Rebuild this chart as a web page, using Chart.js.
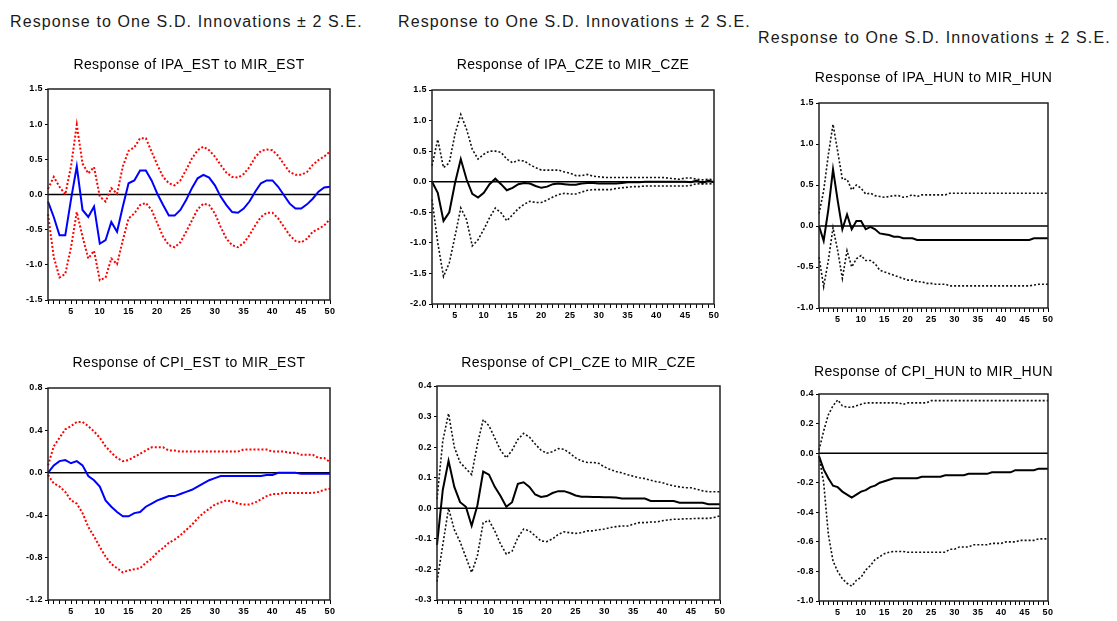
<!DOCTYPE html>
<html>
<head>
<meta charset="utf-8">
<script src="https://cdn.jsdelivr.net/npm/chart.js@4.4.1/dist/chart.umd.min.js"></script>
<style>
  body { margin: 0; background: #fff; width: 1117px; height: 621px; position: relative; overflow: hidden;
         font-family: 'Liberation Sans', Arial, sans-serif; }
  .head { position: absolute; font-size: 16px; letter-spacing: 1.1px; color: #1a1a1a; line-height: 18px; white-space: nowrap; }
  canvas { position: absolute; }
</style>
</head>
<body>
<div class="head" style="left:10px;top:13px">Response to One S.D. Innovations ± 2 S.E.</div>
<div class="head" style="left:398px;top:13px">Response to One S.D. Innovations ± 2 S.E.</div>
<div class="head" style="left:758px;top:29px">Response to One S.D. Innovations ± 2 S.E.</div>

<canvas id="ipaEst"></canvas>
<canvas id="ipaCze"></canvas>
<canvas id="ipaHun"></canvas>
<canvas id="cpiEst"></canvas>
<canvas id="cpiCze"></canvas>
<canvas id="cpiHun"></canvas>

<script>
const periods = [1,2,3,4,5,6,7,8,9,10,11,12,13,14,15,16,17,18,19,20,21,22,23,24,25,
                 26,27,28,29,30,31,32,33,34,35,36,37,38,39,40,41,42,43,44,45,46,47,48,49,50];

// IPA_EST to MIR_EST
const ipaEstResp = [-0.10,-0.32,-0.58,-0.58,-0.07,0.40,-0.22,-0.32,-0.17,-0.70,-0.65,-0.39,-0.53,-0.17,0.16,0.20,0.34,0.34,0.20,0.01,
                    -0.15,-0.30,-0.30,-0.22,-0.08,0.09,0.23,0.28,0.24,0.13,-0.03,-0.15,-0.25,-0.26,-0.20,-0.10,0.04,0.16,0.20,0.20,
                    0.11,-0.01,-0.13,-0.20,-0.20,-0.14,-0.06,0.04,0.10,0.11];
const ipaEstHi = [0.08,0.25,0.11,0.00,0.40,0.99,0.44,0.30,0.39,-0.03,-0.10,0.09,0.01,0.40,0.62,0.67,0.80,0.80,0.61,0.42,
                  0.25,0.16,0.13,0.20,0.35,0.51,0.63,0.68,0.63,0.54,0.42,0.31,0.25,0.24,0.29,0.39,0.53,0.62,0.64,0.63,
                  0.55,0.43,0.32,0.28,0.28,0.32,0.42,0.49,0.54,0.61];
const ipaEstLo = [-0.28,-0.89,-1.18,-1.13,-0.75,-0.25,-0.60,-0.91,-0.80,-1.22,-1.18,-0.91,-0.99,-0.65,-0.34,-0.27,-0.15,-0.12,-0.22,-0.41,
                  -0.60,-0.72,-0.75,-0.68,-0.53,-0.37,-0.21,-0.13,-0.15,-0.27,-0.46,-0.63,-0.72,-0.75,-0.69,-0.58,-0.44,-0.32,-0.26,-0.26,
                  -0.34,-0.46,-0.58,-0.66,-0.68,-0.63,-0.53,-0.49,-0.44,-0.35];

// IPA_CZE to MIR_CZE
const ipaCzeResp = [0.00,-0.18,-0.64,-0.50,-0.02,0.37,0.04,-0.20,-0.26,-0.18,-0.04,0.05,-0.04,-0.14,-0.10,-0.04,-0.02,-0.03,-0.07,-0.10,
                    -0.08,-0.04,-0.03,-0.04,-0.05,-0.05,-0.03,-0.02,-0.02,-0.03,-0.03,-0.03,-0.03,-0.02,-0.01,-0.01,-0.01,0.00,0.00,0.00,
                    0.00,0.00,0.00,0.00,0.00,-0.01,0.02,-0.02,0.02,-0.01];
const ipaCzeHi = [0.26,0.69,0.23,0.31,0.78,1.10,0.86,0.53,0.37,0.45,0.50,0.50,0.48,0.37,0.31,0.35,0.34,0.28,0.23,0.19,
                  0.19,0.19,0.19,0.16,0.14,0.10,0.10,0.12,0.09,0.08,0.07,0.07,0.07,0.07,0.07,0.07,0.07,0.07,0.07,0.07,
                  0.07,0.06,0.05,0.04,0.06,0.06,0.04,0.03,0.04,0.03];
const ipaCzeLo = [-0.29,-1.00,-1.55,-1.33,-0.89,-0.43,-0.62,-1.05,-0.95,-0.78,-0.59,-0.43,-0.51,-0.64,-0.54,-0.44,-0.37,-0.32,-0.34,-0.34,
                  -0.30,-0.25,-0.21,-0.19,-0.20,-0.20,-0.17,-0.14,-0.13,-0.13,-0.13,-0.13,-0.11,-0.10,-0.09,-0.08,-0.08,-0.07,-0.07,-0.07,
                  -0.07,-0.07,-0.07,-0.07,-0.07,-0.06,-0.03,-0.04,-0.03,-0.04];

// IPA_HUN to MIR_HUN
const ipaHunResp = [0.00,-0.18,0.20,0.69,0.31,-0.04,0.14,-0.04,0.06,0.06,-0.04,-0.01,-0.04,-0.09,-0.10,-0.11,-0.13,-0.13,-0.15,-0.15,
                    -0.15,-0.17,-0.17,-0.17,-0.17,-0.17,-0.17,-0.17,-0.17,-0.17,-0.17,-0.17,-0.17,-0.17,-0.17,-0.17,-0.17,-0.17,-0.17,-0.17,
                    -0.17,-0.17,-0.17,-0.17,-0.17,-0.17,-0.15,-0.15,-0.15,-0.15];
const ipaHunHi = [0.15,0.43,0.87,1.24,0.91,0.57,0.57,0.44,0.50,0.46,0.39,0.40,0.37,0.36,0.35,0.36,0.37,0.37,0.35,0.36,
                  0.38,0.36,0.38,0.38,0.38,0.38,0.38,0.38,0.40,0.40,0.40,0.40,0.40,0.40,0.40,0.40,0.40,0.40,0.40,0.40,
                  0.40,0.40,0.40,0.40,0.40,0.40,0.40,0.40,0.40,0.40];
const ipaHunLo = [-0.38,-0.74,-0.42,-0.02,-0.30,-0.64,-0.30,-0.50,-0.40,-0.36,-0.42,-0.42,-0.46,-0.54,-0.56,-0.58,-0.60,-0.62,-0.64,-0.66,
                  -0.66,-0.68,-0.68,-0.70,-0.70,-0.71,-0.71,-0.71,-0.73,-0.73,-0.73,-0.73,-0.73,-0.73,-0.73,-0.73,-0.73,-0.73,-0.73,-0.73,
                  -0.73,-0.73,-0.73,-0.73,-0.73,-0.73,-0.72,-0.71,-0.71,-0.71];

// CPI_EST to MIR_EST
const cpiEstResp = [0.00,0.07,0.11,0.12,0.09,0.11,0.07,-0.03,-0.07,-0.13,-0.26,-0.32,-0.37,-0.41,-0.41,-0.38,-0.37,-0.32,-0.29,-0.26,
                    -0.24,-0.22,-0.22,-0.20,-0.18,-0.16,-0.13,-0.10,-0.07,-0.05,-0.03,-0.03,-0.03,-0.03,-0.03,-0.03,-0.03,-0.03,-0.02,-0.02,
                    0.00,0.00,0.00,0.00,-0.01,-0.01,-0.01,-0.01,-0.01,-0.01];
const cpiEstHi = [0.07,0.25,0.33,0.41,0.44,0.48,0.48,0.44,0.39,0.33,0.25,0.19,0.14,0.11,0.12,0.15,0.18,0.21,0.24,0.24,
                  0.24,0.21,0.21,0.20,0.20,0.20,0.20,0.20,0.20,0.20,0.20,0.20,0.20,0.20,0.22,0.22,0.22,0.22,0.22,0.20,
                  0.20,0.20,0.19,0.19,0.17,0.17,0.17,0.14,0.14,0.10];
const cpiEstLo = [-0.02,-0.10,-0.13,-0.18,-0.26,-0.29,-0.38,-0.51,-0.60,-0.70,-0.79,-0.86,-0.90,-0.94,-0.92,-0.91,-0.90,-0.85,-0.81,-0.75,
                  -0.71,-0.66,-0.63,-0.59,-0.54,-0.49,-0.43,-0.38,-0.34,-0.30,-0.28,-0.26,-0.27,-0.29,-0.30,-0.30,-0.28,-0.25,-0.22,-0.20,
                  -0.20,-0.19,-0.19,-0.19,-0.19,-0.19,-0.19,-0.18,-0.16,-0.15];

// CPI_CZE to MIR_CZE
const cpiCzeResp = [-0.12,0.06,0.155,0.07,0.02,0.005,-0.057,0.01,0.12,0.11,0.07,0.04,0.005,0.02,0.08,0.085,0.07,0.045,0.037,0.04,
                    0.05,0.056,0.056,0.05,0.042,0.038,0.038,0.037,0.037,0.036,0.036,0.035,0.032,0.032,0.032,0.032,0.032,0.024,0.024,0.024,
                    0.024,0.024,0.018,0.018,0.018,0.018,0.018,0.013,0.013,0.013];
const cpiCzeHi = [0.03,0.22,0.31,0.20,0.15,0.13,0.11,0.21,0.29,0.27,0.23,0.19,0.165,0.19,0.225,0.245,0.233,0.21,0.19,0.18,
                  0.185,0.195,0.193,0.18,0.165,0.155,0.15,0.15,0.147,0.135,0.127,0.12,0.116,0.11,0.105,0.10,0.097,0.092,0.087,0.084,
                  0.078,0.073,0.07,0.067,0.067,0.062,0.057,0.054,0.054,0.054];
const cpiCzeLo = [-0.24,-0.12,0.00,-0.07,-0.11,-0.16,-0.21,-0.155,-0.047,-0.04,-0.074,-0.117,-0.15,-0.14,-0.096,-0.068,-0.074,-0.09,-0.107,-0.109,
                  -0.10,-0.085,-0.077,-0.08,-0.082,-0.08,-0.074,-0.074,-0.07,-0.068,-0.063,-0.06,-0.058,-0.058,-0.052,-0.047,-0.047,-0.045,-0.045,-0.041,
                  -0.038,-0.036,-0.036,-0.034,-0.034,-0.033,-0.033,-0.033,-0.03,-0.025];

// CPI_HUN to MIR_HUN
const cpiHunResp = [-0.02,-0.11,-0.17,-0.22,-0.23,-0.26,-0.28,-0.30,-0.28,-0.26,-0.25,-0.23,-0.22,-0.20,-0.19,-0.18,-0.17,-0.17,-0.17,-0.17,
                    -0.17,-0.17,-0.16,-0.16,-0.16,-0.16,-0.16,-0.15,-0.15,-0.15,-0.15,-0.15,-0.14,-0.14,-0.14,-0.14,-0.14,-0.13,-0.13,-0.13,
                    -0.13,-0.13,-0.115,-0.115,-0.115,-0.115,-0.115,-0.105,-0.105,-0.105];
const cpiHunHi = [0.02,0.15,0.26,0.32,0.36,0.32,0.31,0.31,0.32,0.33,0.34,0.34,0.34,0.34,0.34,0.34,0.34,0.34,0.33,0.34,
                  0.34,0.34,0.34,0.34,0.355,0.355,0.355,0.355,0.355,0.355,0.355,0.355,0.355,0.355,0.355,0.355,0.355,0.355,0.355,0.355,
                  0.355,0.355,0.355,0.355,0.355,0.355,0.355,0.355,0.355,0.355];
const cpiHunLo = [-0.02,-0.20,-0.55,-0.73,-0.80,-0.85,-0.88,-0.90,-0.86,-0.84,-0.79,-0.76,-0.72,-0.70,-0.68,-0.67,-0.665,-0.665,-0.665,-0.67,
                  -0.67,-0.67,-0.67,-0.67,-0.67,-0.67,-0.67,-0.67,-0.65,-0.65,-0.635,-0.635,-0.635,-0.62,-0.62,-0.62,-0.62,-0.61,-0.61,-0.61,
                  -0.60,-0.60,-0.60,-0.59,-0.59,-0.59,-0.59,-0.58,-0.58,-0.58];

Chart.defaults.font.family = "'Liberation Sans', Arial, sans-serif";
Chart.defaults.color = '#000';

// width of the y axis band (an empty twin on the right keeps the title centred), x axis band, title line
const SIDE = 40, AXIS_H = 22, TITLE_LH = 17;

// box = plot area [left, top, right, bottom] on the page
const panels = [
  { id: 'ipaEst', title: 'Response of IPA_EST to MIR_EST', resp: ipaEstResp, hi: ipaEstHi, lo: ipaEstLo,
    line: '#0000ff', band: '#ff0000', yMin: -1.5, yMax: 1.5, yStep: 0.5, box: [48, 89, 330, 300], titleY: 65 },
  { id: 'ipaCze', title: 'Response of IPA_CZE to MIR_CZE', resp: ipaCzeResp, hi: ipaCzeHi, lo: ipaCzeLo,
    line: '#000', band: '#111', yMin: -2.0, yMax: 1.5, yStep: 0.5, box: [432, 90, 714, 304], titleY: 65 },
  { id: 'ipaHun', title: 'Response of IPA_HUN to MIR_HUN', resp: ipaHunResp, hi: ipaHunHi, lo: ipaHunLo,
    line: '#000', band: '#111', yMin: -1.0, yMax: 1.5, yStep: 0.5, box: [819, 103, 1048, 308], titleY: 78 },
  { id: 'cpiEst', title: 'Response of CPI_EST to MIR_EST', resp: cpiEstResp, hi: cpiEstHi, lo: cpiEstLo,
    line: '#0000ff', band: '#ff0000', yMin: -1.2, yMax: 0.8, yStep: 0.4, box: [48, 388, 330, 600], titleY: 363 },
  { id: 'cpiCze', title: 'Response of CPI_CZE to MIR_CZE', resp: cpiCzeResp, hi: cpiCzeHi, lo: cpiCzeLo,
    line: '#000', band: '#111', yMin: -0.3, yMax: 0.4, yStep: 0.1, box: [437, 386, 720, 600], titleY: 363 },
  { id: 'cpiHun', title: 'Response of CPI_HUN to MIR_HUN', resp: cpiHunResp, hi: cpiHunHi, lo: cpiHunLo,
    line: '#000', band: '#111', yMin: -1.0, yMax: 0.4, yStep: 0.2, box: [819, 394, 1048, 601], titleY: 372 }
];

// slightly wider lettering for all text on the canvas
const spacing = {
  id: 'spacing',
  beforeUpdate(chart) { chart.ctx.letterSpacing = '0.4px'; },
  beforeDraw(chart) { chart.ctx.letterSpacing = '0.4px'; }
};

// zero line under the series, frame around the plot area on top
const frame = {
  id: 'frame',
  beforeDatasetsDraw(chart) {
    const { ctx, chartArea: a, scales } = chart;
    const y0 = scales.y.getPixelForValue(0);
    ctx.save();
    ctx.strokeStyle = '#000';
    ctx.lineWidth = 1.5;
    ctx.beginPath();
    ctx.moveTo(a.left, y0);
    ctx.lineTo(a.right, y0);
    ctx.stroke();
    ctx.restore();
  },
  afterDraw(chart) {
    const { ctx, chartArea: a } = chart;
    ctx.save();
    ctx.strokeStyle = '#222';
    ctx.lineWidth = 1.5;
    ctx.strokeRect(a.left, a.top, a.right - a.left, a.bottom - a.top);
    ctx.restore();
  }
};

function makePanel(p) {
  const [L, T, R, B] = p.box;
  const top = Math.round(p.titleY - TITLE_LH / 2);
  const w = (R - L) + 2 * SIDE;
  const h = (B - top) + AXIS_H;
  const canvas = document.getElementById(p.id);
  canvas.width = w;
  canvas.height = h;
  canvas.style.left = (L - SIDE) + 'px';
  canvas.style.top = top + 'px';
  canvas.style.width = w + 'px';
  canvas.style.height = h + 'px';

  const dotted = { borderDash: [2, 2], borderWidth: p.band === '#ff0000' ? 2 : 1.6 };

  new Chart(canvas.getContext('2d'), {
    type: 'line',
    data: {
      labels: periods,
      datasets: [
        { data: p.resp, borderColor: p.line, borderWidth: 2, pointRadius: 0 },
        Object.assign({ data: p.hi, borderColor: p.band, pointRadius: 0 }, dotted),
        Object.assign({ data: p.lo, borderColor: p.band, pointRadius: 0 }, dotted)
      ]
    },
    options: {
      responsive: false,
      animation: false,
      layout: { padding: 0 },
      plugins: {
        legend: { display: false },
        tooltip: { enabled: false },
        title: {
          display: true,
          text: p.title,
          color: '#000',
          font: { size: 14, weight: 'normal', lineHeight: TITLE_LH + 'px' },
          padding: { top: 0, bottom: (T - top) - TITLE_LH }
        }
      },
      scales: {
        x: {
          type: 'category',
          offset: false,
          afterFit(s) { s.height = AXIS_H; },
          border: { display: false },
          grid: { drawOnChartArea: false, drawTicks: true, tickLength: 4, color: '#000' },
          ticks: {
            autoSkip: false,
            maxRotation: 0,
            padding: 2,
            font: { size: 9, weight: 'bold' },
            callback: (v, i) => (periods[i] % 5 === 0 ? String(periods[i]) : '')
          }
        },
        y: {
          min: p.yMin,
          max: p.yMax,
          afterFit(s) { s.width = SIDE; },
          border: { display: false },
          grid: { drawOnChartArea: false, drawTicks: true, tickLength: 3, color: '#000' },
          ticks: {
            stepSize: p.yStep,
            padding: 2,
            font: { size: 9, weight: 'bold' },
            callback: v => (Math.abs(v) < 1e-9 ? '0.0' : v.toFixed(1))
          }
        },
        yRight: {
          position: 'right',
          afterFit(s) { s.width = SIDE; },
          border: { display: false },
          grid: { display: false },
          ticks: { display: false }
        }
      }
    },
    plugins: [spacing, frame]
  });
}

panels.forEach(makePanel);
</script>
</body>
</html>
